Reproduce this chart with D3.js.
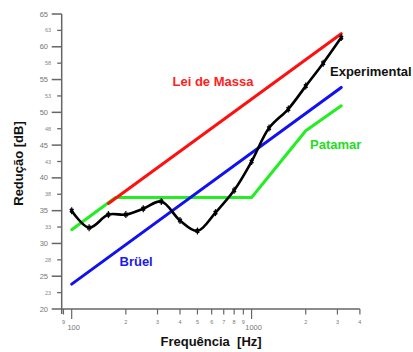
<!DOCTYPE html>
<html>
<head>
<meta charset="utf-8">
<script src="https://cdn.jsdelivr.net/npm/d3@7"></script>
<style>
  html, body { margin: 0; padding: 0; background: #fff; }
  svg { display: block; font-family: "Liberation Sans", Arial, sans-serif; }
</style>
</head>
<body>
<svg id="chart" width="413" height="352"></svg>
<script>
// Third-octave band centre frequencies (Hz) of the measurement
const bandFreqs = [100, 125, 160, 200, 250, 315, 400, 500, 630, 800, 1000, 1250, 1600, 2000, 2500, 3150];
// Measured sound reduction (dB)
const experimental = [35.0, 32.4, 34.4, 34.4, 35.3, 36.4, 33.5, 31.9, 34.7, 38.1, 42.5, 47.6, 50.5, 54.0, 57.5, 61.4];

// Mass law prediction
const massFreqs = [160, 3150];
const massLaw = [36.1, 62.0];

// Brüel prediction
const bruelFreqs = [100, 3150];
const bruel = [23.8, 53.8];

// Plateau (Patamar) method
const plateauFreqs = [100, 175, 1000, 2000, 3150];
const plateau = [32.1, 37.0, 37.0, 47.2, 51.0];

// Axis ticks
const yMajorTicks = [20, 25, 30, 35, 40, 45, 50, 55, 60, 65];
const yMinorTicks = [22.5, 27.5, 32.5, 37.5, 42.5, 47.5, 52.5, 57.5, 62.5];
const xTicks = [90, 100, 200, 300, 400, 500, 600, 700, 800, 900, 1000, 2000, 3000, 4000];
const xTickLabels = ["9", "100", "2", "3", "4", "5", "6", "7", "8", "9", "1000", "2", "3", "4"];
const xMajorTicks = [100, 1000];

const svg = d3.select("#chart");

const x = d3.scaleLog().domain([88, 4000]).range([61.7, 359.9]);
const y = d3.scaleLinear().domain([20, 65]).range([309, 14]);

const axisColor = "#666";

// Y axis
const gy = svg.append("g");
gy.append("line")
  .attr("x1", x(88)).attr("x2", x(88))
  .attr("y1", y(65)).attr("y2", y(20) + 5)
  .attr("stroke", axisColor).attr("stroke-width", 1.5);
gy.selectAll(".ymaj").data(yMajorTicks).join("line")
  .attr("x1", x(88) - 10).attr("x2", x(88))
  .attr("y1", d => y(d)).attr("y2", d => y(d))
  .attr("stroke", axisColor).attr("stroke-width", 1.5);
gy.selectAll(".ymin").data(yMinorTicks).join("line")
  .attr("x1", x(88) - 4.5).attr("x2", x(88))
  .attr("y1", d => y(d)).attr("y2", d => y(d))
  .attr("stroke", axisColor).attr("stroke-width", 1.3);
gy.selectAll(".ymajlab").data(yMajorTicks).join("text")
  .attr("x", 48).attr("y", d => y(d) + 2.5)
  .attr("text-anchor", "end").attr("font-size", 7.5).attr("fill", "#777")
  .text(d => d);
gy.selectAll(".yminlab").data(yMinorTicks).join("text")
  .attr("x", 51).attr("y", d => y(d) + 2)
  .attr("text-anchor", "end").attr("font-size", 5.5).attr("fill", "#888")
  .text(d => Math.round(d));

// X axis
const gx = svg.append("g");
gx.append("line")
  .attr("x1", x(88)).attr("x2", x(4000))
  .attr("y1", y(20)).attr("y2", y(20))
  .attr("stroke", axisColor).attr("stroke-width", 1.5);
gx.selectAll(".xt").data(xTicks).join("line")
  .attr("x1", d => x(d)).attr("x2", d => x(d))
  .attr("y1", y(20))
  .attr("y2", d => y(20) + (xMajorTicks.includes(d) ? 10 : 5.5))
  .attr("stroke", axisColor).attr("stroke-width", 1.2);
gx.selectAll(".xl").data(xTicks).join("text")
  .attr("x", d => x(d) + (xMajorTicks.includes(d) ? 2 : 0))
  .attr("y", d => xMajorTicks.includes(d) ? 330 : 323.5)
  .attr("text-anchor", "middle")
  .attr("font-size", d => xMajorTicks.includes(d) ? 7.5 : 5.5)
  .attr("fill", "#777")
  .text((d, i) => xTickLabels[i]);

// Axis titles
svg.append("text")
  .attr("transform", "translate(23,163.5) rotate(-90)")
  .attr("text-anchor", "middle").attr("font-size", 13).attr("font-weight", "bold")
  .attr("fill", "#111")
  .text("Redução [dB]");
svg.append("text")
  .attr("x", 160.5).attr("y", 346)
  .attr("font-size", 13).attr("font-weight", "bold").attr("fill", "#111")
  .attr("xml:space", "preserve").style("white-space", "pre")
  .text("Frequência  [Hz]");

// Series lines
const lineGen = d3.line().x(d => x(d[0])).y(d => y(d[1]));
function drawSeries(freqs, vals, color, width, curve) {
  const pts = freqs.map((f, i) => [f, vals[i]]);
  svg.append("path")
    .attr("d", lineGen.curve(curve || d3.curveLinear)(pts))
    .attr("fill", "none").attr("stroke", color).attr("stroke-width", width)
    .attr("stroke-linejoin", "round").attr("stroke-linecap", "round");
}

drawSeries(plateauFreqs, plateau, "#22ee22", 3);
drawSeries(bruelFreqs, bruel, "#1010f0", 3);
drawSeries(massFreqs, massLaw, "#ff1010", 3);
drawSeries(bandFreqs, experimental, "#000", 2.6, d3.curveCatmullRom.alpha(0.5));

// Star markers on the measured points
const star = d3.symbol().type(d3.symbolCross).size(14);
svg.selectAll(".mk").data(bandFreqs.map((f, i) => [f, experimental[i]])).join("path")
  .attr("transform", d => `translate(${x(d[0])},${y(d[1])}) rotate(45)`)
  .attr("d", star)
  .attr("fill", "#000");
svg.selectAll(".mk2").data(bandFreqs.map((f, i) => [f, experimental[i]])).join("line")
  .attr("x1", d => x(d[0])).attr("x2", d => x(d[0]))
  .attr("y1", d => y(d[1]) - 3.5).attr("y2", d => y(d[1]) + 3.5)
  .attr("stroke", "#000").attr("stroke-width", 1.2);

// Series labels
const labels = [
  { text: "Lei de Massa", x: 172.5, y: 85.5, color: "#ff2020" },
  { text: "Experimental", x: 330, y: 75.5, color: "#111" },
  { text: "Patamar", x: 310, y: 149, color: "#22dd22" },
  { text: "Brüel", x: 119.5, y: 265.5, color: "#1a1aee" }
];
svg.selectAll(".lab").data(labels).join("text")
  .attr("x", d => d.x).attr("y", d => d.y)
  .attr("font-size", 13).attr("font-weight", "bold")
  .attr("fill", d => d.color)
  .text(d => d.text);
</script>
</body>
</html>
